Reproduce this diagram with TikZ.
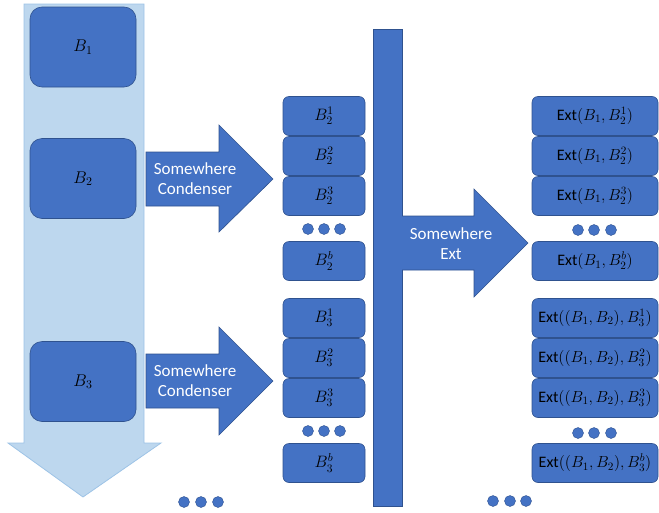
\RequirePackage{fix-cm}
\documentclass[tikz,border=0pt]{standalone}
\usepackage{fontspec}
\setmainfont{Carlito}
\definecolor{boxblue}{HTML}{4472C4}
\definecolor{boxedge}{HTML}{2F528F}
\definecolor{flowfill}{HTML}{BDD7EE}
\definecolor{flowedge}{HTML}{9DC3E6}
\begin{document}
\begin{tikzpicture}[x=1pt,y=-1pt,
  blockshape/.style={draw=boxedge,fill=boxblue,line width=0.6pt,inner sep=0pt},
  bigblock/.style={blockshape,rounded corners=12pt,minimum width=106pt,minimum height=80pt,font=\fontsize{17}{20}\selectfont},
  subblock/.style={blockshape,rounded corners=6pt,minimum width=82pt,minimum height=39pt,font=\fontsize{16.5}{19}\selectfont},
  extblock/.style={blockshape,rounded corners=6pt,minimum width=126pt,minimum height=39pt,font=\fontsize{16}{19}\selectfont},
  bigarrow/.style={draw=boxedge,fill=boxblue,line width=0.6pt},
  arrowtext/.style={text=white,align=center,font=\fontsize{17}{20}\selectfont,inner sep=0pt},
  dot/.style={circle,fill=boxblue,draw=boxedge,line width=0.4pt,minimum size=11pt,inner sep=0pt}
]
\useasboundingbox (0,0) rectangle (659,512);

% flow of blocks, top to bottom
\draw[fill=flowfill,draw=flowedge,line width=0.8pt]
  (24,4) -- (144,4) -- (144,443) -- (161,443) -- (83,497) -- (8,443) -- (24,443) -- cycle;

\node[bigblock] (b1) at (83,47) {$B_1$};
\node[bigblock] (b2) at (83,178.5) {$B_2$};
\node[bigblock] (b3) at (83,381.5) {$B_3$};

% condenser arrows
\draw[bigarrow] (146,152) -- (219,152) -- (219,125) -- (273,179) -- (219,232) -- (219,206) -- (146,206) -- cycle;
\node[arrowtext] (cond2) at (195,179) {Somewhere\\Condenser};
\draw[bigarrow] (146,354) -- (219,354) -- (219,327) -- (273,381) -- (219,435) -- (219,408) -- (146,408) -- cycle;
\node[arrowtext] (cond3) at (195,381) {Somewhere\\Condenser};

% condensed rows
\node[subblock] (s21) at (324,116) {$B_2^1$};
\node[subblock] (s22) at (324,156) {$B_2^2$};
\node[subblock] (s23) at (324,196) {$B_2^3$};
\node[dot] (d2a) at (308,229) {};
\node[dot] (d2b) at (324,229) {};
\node[dot] (d2c) at (340,229) {};
\node[subblock] (s2b) at (324,261) {$B_2^b$};

\node[subblock] (s31) at (324,318) {$B_3^1$};
\node[subblock] (s32) at (324,358) {$B_3^2$};
\node[subblock] (s33) at (324,398) {$B_3^3$};
\node[dot] (d3a) at (308,431) {};
\node[dot] (d3b) at (324,431) {};
\node[dot] (d3c) at (340,431) {};
\node[subblock] (s3b) at (324,463) {$B_3^b$};

\node[dot] (dla) at (184,502) {};
\node[dot] (dlb) at (201,502) {};
\node[dot] (dlc) at (218,502) {};

% collecting bar and extractor arrow
\draw[bigarrow] (373,29) rectangle (402,506);
\draw[bigarrow] (402,216) -- (474,216) -- (474,189) -- (528,243) -- (474,297) -- (474,270) -- (402,270);
\node[arrowtext] (ext) at (451,244) {Somewhere\\Ext};

% extracted outputs
\node[extblock] (e21) at (595,116) {Ext$(B_1,B_2^1)$};
\node[extblock] (e22) at (595,156) {Ext$(B_1,B_2^2)$};
\node[extblock] (e23) at (595,196) {Ext$(B_1,B_2^3)$};
\node[dot] (f2a) at (578,230) {};
\node[dot] (f2b) at (594,230) {};
\node[dot] (f2c) at (611,230) {};
\node[extblock] (e2b) at (595,261) {Ext$(B_1,B_2^b)$};

\node[extblock] (e31) at (595,318) {Ext$((B_1,B_2),B_3^1)$};
\node[extblock] (e32) at (595,358) {Ext$((B_1,B_2),B_3^2)$};
\node[extblock] (e33) at (595,398) {Ext$((B_1,B_2),B_3^3)$};
\node[dot] (f3a) at (578,433) {};
\node[dot] (f3b) at (594,433) {};
\node[dot] (f3c) at (611,433) {};
\node[extblock] (e3b) at (595,463) {Ext$((B_1,B_2),B_3^b)$};

\node[dot] (fla) at (493,501) {};
\node[dot] (flb) at (510,501) {};
\node[dot] (flc) at (526,501) {};
\end{tikzpicture}
\end{document}
